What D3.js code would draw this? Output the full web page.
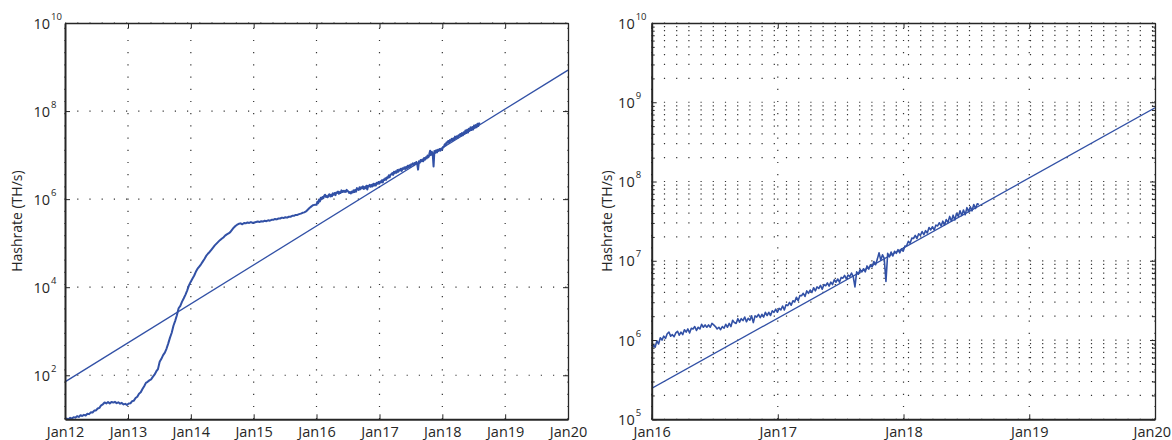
<!DOCTYPE html>
<html><head><meta charset="utf-8">
<script src="https://cdn.jsdelivr.net/npm/d3@7"></script>
<style>
body{margin:0;background:#fff}
svg{display:block}
text{font-family:"Open Sans",sans-serif;fill:#262626}
</style>
</head><body><svg id="c" width="1172" height="440"></svg>
<script>
// ---------- data ----------
// daily hashrate sampled every 10 days (2012-2015) and every 5 days (2016-2018), TH/s
const earlyStart = "2012-01-01";
const earlyStepDays = 10;
const earlyHashrate = [9.6,10.4,9.9,10.8,10.3,11.2,10.9,11.8,11.3,12.4,11.9,12.6,12.2,13.4,13.1,14.4,14.3,15.8,15.9,17.6,
18.2,20.8,21.9,24.1,22.9,24.6,23.0,24.8,24.0,24.9,23.3,24.3,22.6,23.6,21.8,22.4,21.2,22.8,23.1,25.9,
26.5,30.4,32.5,38.2,41.0,48.6,56.5,67.3,71.0,76.5,80.2,92.0,103,122,138,203,236,287,326,405,
530,715,925,1330,1720,2300,3330,3780,4700,5600,6800,8500,11000,13200,15500,18200,22400,26300,29500,33100,
38000,43600,51300,57500,63100,70800,79400,89100,97700,107000,117000,126000,135000,148000,158000,166000,178000,200000,224000,245000,
263000,275000,282000,269000,288000,282000,295000,288000,302000,288000,295000,302000,309000,302000,316000,309000,324000,316000,331000,324000,
339000,339000,355000,347000,363000,363000,380000,372000,389000,380000,398000,398000,417000,417000,437000,437000,457000,468000,490000,501000,
525000,575000,631000,676000,724000,741000];
const lateStart = "2016-01-01";
const lateStepDays = 5;
const lateHashrate = [7.41e5,8.71e5,8.13e5,9.77e5,8.91e5,1.07e6,1.00e6,1.12e6,1.05e6,1.20e6,
1.26e6,1.12e6,1.17e6,1.10e6,1.23e6,1.29e6,1.15e6,1.26e6,1.17e6,1.35e6,
1.26e6,1.38e6,1.23e6,1.41e6,1.38e6,1.48e6,1.32e6,1.45e6,1.38e6,1.58e6,
1.45e6,1.55e6,1.45e6,1.55e6,1.45e6,1.62e6,1.55e6,1.48e6,1.38e6,1.45e6,
1.35e6,1.48e6,1.41e6,1.58e6,1.45e6,1.62e6,1.48e6,1.78e6,1.66e6,1.62e6,
1.86e6,1.68e6,1.86e6,1.76e6,1.95e6,1.70e6,1.88e6,1.78e6,2.02e6,1.66e6,
2.02e6,1.95e6,2.11e6,1.91e6,2.11e6,1.95e6,2.24e6,2.04e6,2.24e6,2.04e6,
2.34e6,2.24e6,2.45e6,2.24e6,2.51e6,2.40e6,2.69e6,2.40e6,2.79e6,2.72e6,
2.99e6,2.75e6,3.13e6,3.02e6,3.47e6,3.13e6,3.63e6,3.63e6,3.89e6,3.55e6,
4.17e6,3.89e6,4.27e6,3.98e6,4.57e6,4.17e6,4.68e6,4.47e6,4.90e6,4.37e6,
5.01e6,4.84e6,5.25e6,4.79e6,5.37e6,5.01e6,5.75e6,5.37e6,5.89e6,5.37e6,
6.17e6,6.03e6,6.53e6,5.89e6,6.61e6,6.31e6,7.00e6,6.31e6,4.68e6,7.24e6,
6.76e6,7.76e6,7.24e6,7.94e6,7.24e6,8.61e6,7.85e6,8.91e6,8.41e6,9.77e6,
8.91e6,1.05e7,1.26e7,1.02e7,1.19e7,1.07e7,5.50e6,1.24e7,1.12e7,1.29e7,
1.15e7,1.32e7,1.24e7,1.38e7,1.26e7,1.41e7,1.32e7,1.53e7,1.55e7,1.76e7,
1.66e7,1.93e7,1.91e7,2.09e7,1.91e7,2.19e7,2.09e7,2.34e7,2.14e7,2.40e7,
2.24e7,2.63e7,2.45e7,2.69e7,2.45e7,2.82e7,2.75e7,3.02e7,2.75e7,3.16e7,
2.82e7,3.31e7,3.05e7,3.63e7,3.16e7,3.76e7,3.27e7,3.98e7,3.63e7,4.27e7,
3.72e7,4.37e7,3.80e7,4.68e7,4.17e7,4.79e7,4.27e7,5.13e7,4.57e7,5.25e7,5.13e7];
// exponential fit
const fitDates = ["2012-01-01","2020-01-01"];
const fitValues = [70.8, 8.51e8];
// axes
const leftYearTicks = ["2012-01-01","2013-01-01","2014-01-01","2015-01-01","2016-01-01","2017-01-01","2018-01-01","2019-01-01","2020-01-01"];
const leftYearLabels = ["Jan12","Jan13","Jan14","Jan15","Jan16","Jan17","Jan18","Jan19","Jan20"];
const rightYearTicks = ["2016-01-01","2017-01-01","2018-01-01","2019-01-01","2020-01-01"];
const rightYearLabels = ["Jan16","Jan17","Jan18","Jan19","Jan20"];
const leftYExponents = [2,4,6,8,10];
const rightYExponents = [5,6,7,8,9,10];
const yLabel = "Hashrate (TH/s)";

// ---------- build ----------
const parse = d3.utcParse("%Y-%m-%d");
const series = [];
earlyHashrate.forEach((v,i)=>series.push({d:d3.utcDay.offset(parse(earlyStart), i*earlyStepDays), v}));
lateHashrate.forEach((v,i)=>series.push({d:d3.utcDay.offset(parse(lateStart), i*lateStepDays), v}));
const fit = fitDates.map((s,i)=>({d:parse(s), v:fitValues[i]}));

const svg = d3.select("#c");
const W = +svg.attr("width");
const BLUE = "#3251a6", INK = "#262626";
const DOT = "1.2,11";

const panels = [
  {id:"L", x0:65, x1:568, y0:23, y1:419.3, xd:[parse("2012-01-01"),parse("2020-01-01")], yd:[1e1,1e10],
   ticks:leftYearTicks, labels:leftYearLabels, exps:leftYExponents, minor:false, labX:22, dataW:2.0},
  {id:"R", x0:651.7, x1:1155, y0:23, y1:419.3, xd:[parse("2016-01-01"),parse("2020-01-01")], yd:[1e5,1e10],
   ticks:rightYearTicks, labels:rightYearLabels, exps:rightYExponents, minor:true, labX:612, dataW:1.6}
];

panels.forEach(p=>{
  const x = d3.scaleUtc().domain(p.xd).range([p.x0,p.x1]);
  const y = d3.scaleLog().domain(p.yd).range([p.y1,p.y0]);
  const g = svg.append("g");
  const tickDates = p.ticks.map(parse);
  const majorY = p.exps.map(e=>Math.pow(10,e));
  const minorY = [];
  if (p.minor) {
    const lo = Math.round(Math.log10(p.yd[0])), hi = Math.round(Math.log10(p.yd[1]));
    for (let k=lo;k<hi;k++) for (let m=2;m<=9;m++) minorY.push(m*Math.pow(10,k));
  }
  // grid
  const grid = g.append("g").attr("stroke","#333").attr("stroke-width",1.2).attr("stroke-dasharray",DOT).attr("fill","none");
  majorY.concat(minorY).forEach(v=>{
    grid.append("line").attr("x1",p.x0).attr("x2",p.x1).attr("y1",y(v)).attr("y2",y(v));
  });
  tickDates.forEach(d=>{
    grid.append("line").attr("x1",x(d)).attr("x2",x(d)).attr("y1",p.y1).attr("y2",p.y0);
  });
  // clip
  const cid = "clip"+p.id;
  svg.append("clipPath").attr("id",cid).append("rect")
    .attr("x",p.x0).attr("y",p.y0).attr("width",p.x1-p.x0).attr("height",p.y1-p.y0);
  const line = d3.line().x(d=>x(d.d)).y(d=>y(d.v));
  const plot = g.append("g").attr("clip-path",`url(#${cid})`);
  plot.append("path").datum(series).attr("d",line).attr("fill","none")
    .attr("stroke",BLUE).attr("stroke-width",p.dataW).attr("stroke-linejoin","round");
  plot.append("path").datum(fit).attr("d",line).attr("fill","none")
    .attr("stroke",BLUE).attr("stroke-width",1.3);
  // axes
  const styleAxis = (sel,w)=>{
    sel.selectAll(".domain").attr("stroke",INK).attr("stroke-width",w);
    sel.selectAll(".tick line").attr("stroke",INK).attr("stroke-width",1);
  };
  const bottom = g.append("g").attr("transform",`translate(0,${p.y1})`)
    .call(d3.axisBottom(x).tickValues(tickDates).tickSize(-5).tickSizeOuter(0).tickPadding(7)
      .tickFormat((d,i)=>p.labels[i]));
  styleAxis(bottom,2);
  bottom.selectAll("text").attr("font-size","14.5px").attr("fill",INK).style("font-family",'"Open Sans",sans-serif');
  // keep labels inside the picture
  bottom.selectAll(".tick").each(function(){
    const t = d3.select(this).select("text").node();
    const bb = t.getBBox();
    const m = this.transform.baseVal.consolidate().matrix;
    const right = m.e + bb.x + bb.width;
    if (right > W - 1) d3.select(t).attr("dx", (W - 1 - right) + "px");
  });
  const top = g.append("g").attr("transform",`translate(0,${p.y0})`)
    .call(d3.axisTop(x).tickValues(tickDates).tickSize(-5).tickSizeOuter(0).tickFormat(()=>""));
  styleAxis(top,1.3);
  const left = g.append("g").attr("transform",`translate(${p.x0},0)`)
    .call(d3.axisLeft(y).tickValues(majorY).tickSize(-5).tickSizeOuter(0).tickFormat(()=>""));
  styleAxis(left,2);
  const right = g.append("g").attr("transform",`translate(${p.x1},0)`)
    .call(d3.axisRight(y).tickValues(majorY).tickSize(-5).tickSizeOuter(0).tickFormat(()=>""));
  styleAxis(right,1.3);
  if (p.minor) {
    const lm = g.append("g").attr("transform",`translate(${p.x0},0)`)
      .call(d3.axisLeft(y).tickValues(minorY).tickSize(-3).tickSizeOuter(0).tickFormat(()=>""));
    lm.select(".domain").remove(); lm.selectAll(".tick line").attr("stroke",INK);
    const rm = g.append("g").attr("transform",`translate(${p.x1},0)`)
      .call(d3.axisRight(y).tickValues(minorY).tickSize(-3).tickSizeOuter(0).tickFormat(()=>""));
    rm.select(".domain").remove(); rm.selectAll(".tick line").attr("stroke",INK);
  }
  // y tick labels 10^n
  const off = p.id==="L" ? 15 : 17;
  p.exps.forEach(e=>{
    const ty = y(Math.pow(10,e));
    g.append("text").attr("x",p.x0-off).attr("y",ty+5.5).attr("text-anchor","end")
      .attr("font-size","14.5px").text("10");
    g.append("text").attr("x",p.x0-off+1).attr("y",ty-3.5).attr("text-anchor","start")
      .attr("font-size","9.5px").text(String(e));
  });
  // y label
  g.append("text").attr("transform",`translate(${p.labX},${(p.y0+p.y1)/2}) rotate(-90)`)
    .attr("text-anchor","middle").attr("font-size","14px").text(yLabel);
});
</script>
</body></html>
